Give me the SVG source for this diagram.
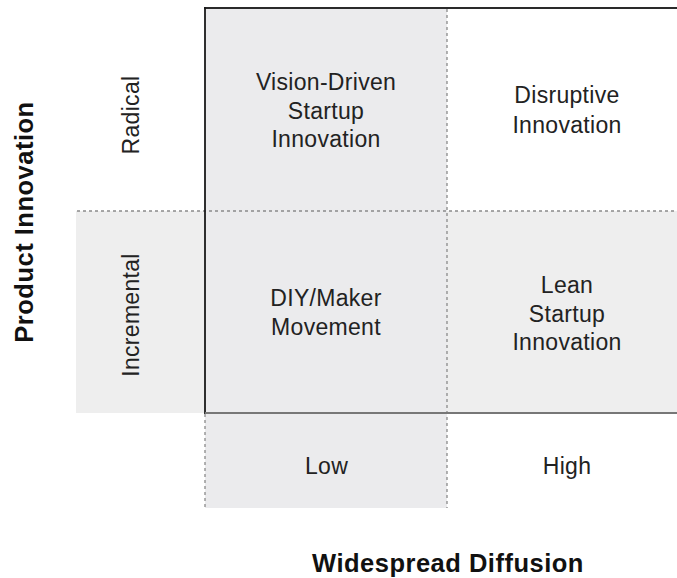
<svg xmlns="http://www.w3.org/2000/svg" width="677" height="578" viewBox="0 0 677 578">
  <style>
    .lbl { font-family: "Liberation Sans", Arial, Helvetica, sans-serif; font-size: 23px; fill: #222; text-anchor: middle; letter-spacing: 0.3px; }
    .axis { font-family: "Liberation Sans", Arial, Helvetica, sans-serif; font-size: 25.5px; font-weight: bold; fill: #111; text-anchor: middle; letter-spacing: 0.5px; }
    .dot { stroke: #8a8a8a; stroke-width: 1.3; stroke-dasharray: 3 3; fill: none; }
    .shadeA { fill: #ebebed; }
    .shadeB { fill: #eeeeee; }
  </style>

  <!-- shaded backgrounds -->
  <g id="backgrounds">
    <rect class="shadeB" x="76" y="211" width="601" height="202"/>
    <rect class="shadeA" x="205" y="8" width="242" height="405"/>
    <rect class="shadeA" x="205" y="413" width="242" height="95"/>
  </g>

  <!-- grid lines -->
  <g id="connectors">
    <line class="dot" x1="77" y1="211" x2="677" y2="211"/>
    <line class="dot" x1="447" y1="9" x2="447" y2="508"/>
    <line class="dot" x1="205" y1="414" x2="205" y2="508"/>
    <line x1="204" y1="8" x2="677" y2="8" stroke="#2a2a2a" stroke-width="2"/>
    <line x1="205" y1="7" x2="205" y2="414" stroke="#1a1a1a" stroke-width="1.8"/>
    <line x1="205" y1="413" x2="677" y2="413" stroke="#777" stroke-width="2"/>
  </g>

  <g id="vision-driven">
    <text class="lbl" x="326" y="90">Vision-Driven</text>
    <text class="lbl" x="326" y="118.5">Startup</text>
    <text class="lbl" x="326" y="147">Innovation</text>
  </g>

  <g id="disruptive">
    <text class="lbl" x="567" y="103">Disruptive</text>
    <text class="lbl" x="567" y="132.5">Innovation</text>
  </g>

  <g id="diy-maker">
    <text class="lbl" x="326" y="306">DIY/Maker</text>
    <text class="lbl" x="326" y="335">Movement</text>
  </g>

  <g id="lean-startup">
    <text class="lbl" x="567" y="293">Lean</text>
    <text class="lbl" x="567" y="321.5">Startup</text>
    <text class="lbl" x="567" y="350">Innovation</text>
  </g>

  <g id="radical">
    <text class="lbl" transform="translate(139,115) rotate(-90)">Radical</text>
  </g>

  <g id="incremental">
    <text class="lbl" transform="translate(139,315) rotate(-90)">Incremental</text>
  </g>

  <g id="low">
    <text class="lbl" x="326.5" y="474">Low</text>
  </g>

  <g id="high">
    <text class="lbl" x="567" y="474">High</text>
  </g>

  <g id="axis-x">
    <text class="axis" x="448" y="572">Widespread Diffusion</text>
  </g>

  <g id="axis-y">
    <text class="axis" transform="translate(33,222) rotate(-90)">Product Innovation</text>
  </g>
</svg>
